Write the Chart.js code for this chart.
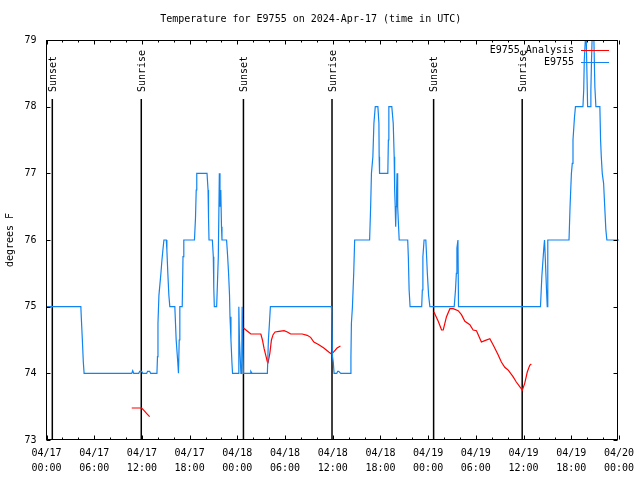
<!DOCTYPE html>
<html><head><meta charset="utf-8">
<script src="https://cdn.jsdelivr.net/npm/chart.js@4.4.1/dist/chart.umd.min.js"></script>
<style>html,body{margin:0;padding:0;background:#fff}</style>
</head><body>
<canvas id="c" width="640" height="480" style="width:640px;height:480px;display:block"></canvas>
<script>
// ---------- data ----------
const titleText = 'Temperature for E9755 on 2024-Apr-17 (time in UTC)';
const yAxisTitle = 'degrees F';
const tickHours = [0, 6, 12, 18, 24, 30, 36, 42, 48, 54, 60, 66, 72];
const tickDates = ['04/17','04/17','04/17','04/17','04/18','04/18','04/18','04/18','04/19','04/19','04/19','04/19','04/20'];
const tickTimes = ['00:00','06:00','12:00','18:00','00:00','06:00','12:00','18:00','00:00','06:00','12:00','18:00','00:00'];
const yTicks = [73, 74, 75, 76, 77, 78, 79];
const eventHours = [0.73, 11.92, 24.77, 35.91, 48.69, 59.83];
const eventLabels = ['Sunset','Sunrise','Sunset','Sunrise','Sunset','Sunrise'];
const seriesNames = ['E9755 Analysis', 'E9755'];

// observed station temperatures (hours since 04/17 00:00 UTC)
const obsHours = [0,4.32,4.38,4.51,4.63,4.73,10.72,10.84,10.97,11.60,11.72,11.97,12.10,12.60,12.72,12.97,13.10,13.89,13.96,14.02,14.14,14.39,14.52,14.64,14.77,15.07,15.14,15.26,15.39,15.51,16.14,16.31,16.51,16.60,16.69,16.77,17.07,17.17,17.27,18.61,18.74,18.83,18.90,20.19,20.32,20.38,20.44,20.86,20.98,21.04,21.11,21.40,21.48,21.61,21.74,21.82,21.92,22.01,22.07,22.65,22.78,22.90,23.02,23.08,23.20,23.32,23.40,24.11,24.19,24.27,24.45,24.55,24.61,24.70,24.77,25.60,25.70,25.85,27.78,27.91,28.04,28.16,35.84,35.88,35.97,36.07,36.17,36.51,36.63,36.75,37.01,38.23,38.29,38.35,38.48,38.64,38.76,40.64,40.77,40.87,41.05,41.18,41.35,41.68,41.81,41.84,41.89,42.93,43.00,43.06,43.43,43.61,43.73,43.79,43.86,43.92,43.98,44.04,44.09,44.17,44.36,45.43,45.51,45.61,45.73,47.19,47.27,47.34,47.49,47.71,47.81,47.90,48.06,48.22,51.28,51.44,51.55,51.62,51.75,51.82,62.13,62.30,62.55,62.64,62.76,62.89,62.98,63.05,65.72,65.85,66.02,66.13,66.22,66.40,66.53,67.47,67.57,67.64,67.77,67.89,68.06,68.37,68.47,68.55,68.62,68.85,68.97,69.10,69.60,69.69,69.78,69.90,70.07,70.19,70.35,70.48,72];
const obsTemps = [75,75,74.83,74.5,74.17,74,74,74.04,74,74,74.03,74.03,74,74,74.03,74.03,74,74,74.25,74.75,75.17,75.5,75.7,75.85,76,76,75.85,75.5,75.17,75,75,74.5,74.17,74,74.5,75,75,75.75,76,76,76.33,76.75,77,77,76.75,76.33,76,76,75.75,75.28,75,75,75.28,75.75,77,76.5,76.75,76.2,76,76,75.76,75.5,75.17,74.85,74.5,74.17,74,74,75,74.5,74,74,75,75,74,74,74.03,74,74,74.5,74.75,75,75,74.85,74.25,74.17,74,74,74.03,74.03,74,74,74.25,74.75,75,75.5,76,76,76.5,77,77.25,77.75,78,78,77.75,77.25,77,77,77.5,78,78,77.75,77.25,76.75,76.5,76.2,76.5,76.75,77,76.5,76,76,75.75,75.25,75,75,75.25,75.75,76,76,75.75,75.5,75.17,75,75,75.25,75.5,75.88,76,75,75,75.45,75.88,76,75.65,75.25,75,76,76,76.5,77,77.15,77.5,77.83,78,78,78.25,78.7,79,79,78,78,78.25,78.7,79,79,78.3,78,78,77.5,77.25,77,76.85,76.55,76.16,76,76];

// analysis temperatures (null = gap between analysis runs)
const anaHours = [10.72,11.97,12.28,12.58,12.97,13.0,
  24.77,25.28,25.70,26.96,27.16,27.37,27.58,27.78,27.87,28.09,28.29,28.50,28.75,29.25,29.88,30.29,30.71,32.16,32.79,33.22,33.63,34.26,34.88,35.50,35.84,36.04,36.55,36.97,37.0,
  48.73,49.27,49.69,49.90,50.31,50.74,51.15,51.78,52.19,52.62,53.25,53.66,54.08,54.70,55.13,55.76,56.17,56.80,57.21,57.64,58.05,58.68,59.09,59.52,59.85,60.15,60.47,60.78,60.98];
const anaTemps = [73.48,73.48,73.44,73.40,73.35,null,
  74.68,74.63,74.59,74.59,74.50,74.37,74.27,74.17,74.16,74.30,74.50,74.58,74.62,74.63,74.64,74.62,74.59,74.59,74.57,74.54,74.47,74.43,74.38,74.32,74.29,74.31,74.38,74.41,null,
  74.92,74.78,74.65,74.65,74.85,74.97,74.97,74.94,74.88,74.78,74.73,74.65,74.64,74.47,74.49,74.52,74.43,74.28,74.17,74.09,74.05,73.95,73.87,73.80,73.75,73.85,74.02,74.12,74.14];

// ---------- styles ----------
const FONT = '"DejaVu Sans Mono", "Liberation Mono", monospace';
const BLUE = 'rgb(16,132,240)';
const RED = 'rgb(255,0,0)';

const obsData = obsHours.map((h, i) => ({x: h, y: obsTemps[i]}));
const anaData = anaHours.map((h, i) => ({x: h, y: anaTemps[i]}));

const decor = {
  id: 'decor',
  beforeDatasetsDraw(chart) {
    const {ctx, chartArea: a, scales: {x}} = chart;
    ctx.save();
    ctx.strokeStyle = '#000';
    ctx.lineWidth = 1.5;
    ctx.fillStyle = '#000';
    ctx.font = '10px ' + FONT;
    eventHours.forEach((h, i) => {
      const px = x.getPixelForValue(h);
      ctx.beginPath();
      ctx.moveTo(px, a.top + 59);
      ctx.lineTo(px, a.bottom);
      ctx.stroke();
      ctx.save();
      ctx.translate(px + 1, a.top + 52);
      ctx.rotate(-Math.PI / 2);
      ctx.textAlign = 'left';
      ctx.textBaseline = 'middle';
      ctx.fillText(eventLabels[i], 0, 0);
      ctx.restore();
    });
    ctx.restore();
  },
  afterDraw(chart) {
    const {ctx, chartArea: a, scales: {x, y}} = chart;
    ctx.save();
    ctx.strokeStyle = '#000';
    ctx.lineWidth = 1;
    const L = Math.floor(a.left) + 0.5, R = Math.floor(a.right) - 0.5;
    const T = Math.floor(a.top) + 0.5, B = Math.floor(a.bottom) - 0.5;
    ctx.strokeRect(L, T, R - L, B - T);
    ctx.beginPath();
    for (let h = 0; h <= 72; h += 2) {
      const px = Math.round(x.getPixelForValue(h)) + 0.5;
      const len = (h % 6 === 0) ? 4 : 2;
      ctx.moveTo(px, B); ctx.lineTo(px, B - len);
      ctx.moveTo(px, T); ctx.lineTo(px, T + len);
    }
    yTicks.forEach(v => {
      const py = Math.round(y.getPixelForValue(v)) + 0.5;
      ctx.moveTo(L, py); ctx.lineTo(L + 4, py);
      ctx.moveTo(R, py); ctx.lineTo(R - 4, py);
    });
    ctx.stroke();
    // key
    ctx.font = '10px ' + FONT;
    ctx.fillStyle = '#000';
    ctx.textAlign = 'right';
    ctx.textBaseline = 'middle';
    const colors = [RED, BLUE];
    seriesNames.forEach((n, i) => {
      const ky = 50 + i * 12;
      ctx.fillText(n, 574, ky);
      ctx.strokeStyle = colors[i];
      ctx.beginPath();
      ctx.moveTo(581, ky + 0.5);
      ctx.lineTo(609, ky + 0.5);
      ctx.stroke();
    });
    ctx.restore();
  }
};

new Chart(document.getElementById('c'), {
  type: 'line',
  data: {
    datasets: [
      {label: seriesNames[1], data: obsData, borderColor: BLUE, borderWidth: 1.2, pointRadius: 0, tension: 0, order: 0, fill: false},
      {label: seriesNames[0], data: anaData, borderColor: RED, borderWidth: 1.2, pointRadius: 0, tension: 0, order: 1, fill: false, spanGaps: false}
    ]
  },
  options: {
    responsive: false,
    animation: false,
    devicePixelRatio: 1,
    events: [],
    layout: {padding: {left: 0, right: 18.5, top: 0, bottom: 0}},
    plugins: {
      legend: {display: false},
      tooltip: {enabled: false},
      title: {display: true, text: titleText, color: '#000',
        font: {family: FONT, size: 10, weight: 'normal', lineHeight: 1.2},
        padding: {top: 13, bottom: 15}}
    },
    scales: {
      x: {
        type: 'linear', min: 0, max: 72,
        afterBuildTicks: s => { s.ticks = tickHours.map(v => ({value: v})); },
        afterFit: s => { s.height = 40; },
        grid: {display: false, drawTicks: false},
        border: {display: false},
        ticks: {
          autoSkip: false, maxRotation: 0, minRotation: 0, padding: 6, color: '#000',
          font: {family: FONT, size: 10, lineHeight: 1.5},
          callback: v => { const i = tickHours.indexOf(v); return i < 0 ? '' : [tickDates[i], tickTimes[i]]; }
        }
      },
      y: {
        min: 73, max: 79,
        afterBuildTicks: s => { s.ticks = yTicks.map(v => ({value: v})); },
        afterFit: s => { s.width = 46.5; },
        grid: {display: false, drawTicks: false},
        border: {display: false},
        ticks: {padding: 10, color: '#000', font: {family: FONT, size: 10}},
        title: {display: true, text: yAxisTitle, color: '#000', font: {family: FONT, size: 10}, padding: {top: 4, bottom: 0}}
      }
    }
  },
  plugins: [decor]
});
</script>
</body></html>
